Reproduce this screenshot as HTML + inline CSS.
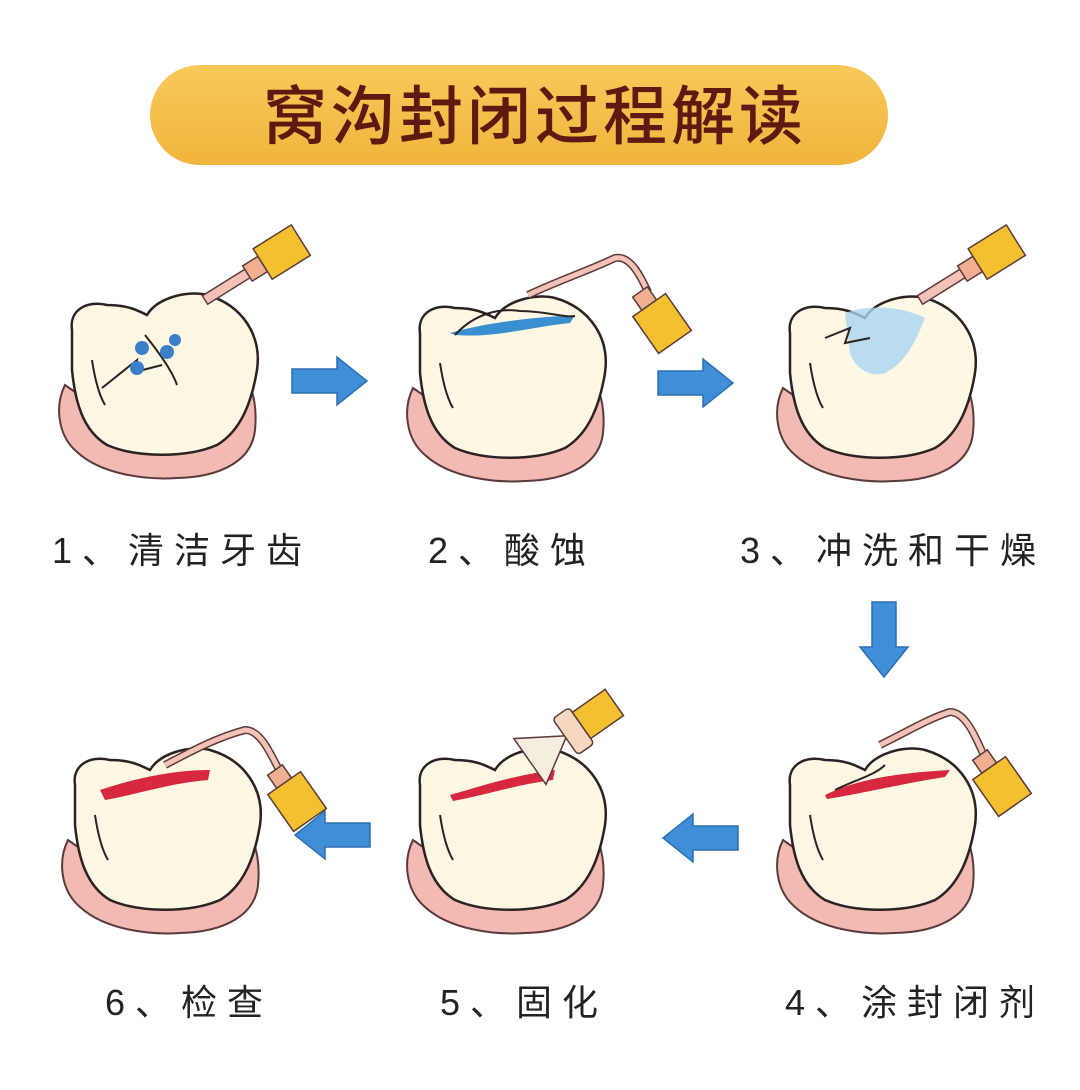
<!DOCTYPE html>
<html><head><meta charset="utf-8"><style>
html,body{margin:0;padding:0;background:#fff;}
body{width:1080px;height:1085px;overflow:hidden;}
</style></head><body>
<svg width="1080" height="1085" viewBox="0 0 1080 1085" xmlns="http://www.w3.org/2000/svg">
<defs>
<linearGradient id="tg" x1="0" x2="0" y1="0" y2="1"><stop offset="0" stop-color="#f8c95a"/><stop offset="1" stop-color="#f1b43c"/></linearGradient>
<g id="tooth">
<path d="M8,105 C-2,125 0,155 20,172 C45,195 90,200 120,198 C165,197 195,180 198,150 C200,130 197,112 190,100 C185,140 150,170 100,172 C55,172 25,150 18,112 Z" fill="#f3b9b3" stroke="#5a3a3a" stroke-width="2"/>
<path d="M15,50 C12,30 30,20 50,25 C70,25 80,30 90,35 C100,18 130,10 150,15 C185,25 205,55 200,90 C195,120 185,150 160,165 C130,178 80,178 50,165 C25,150 18,120 15,90 Z" fill="#fdf7e4" stroke="#2b2222" stroke-width="2.5"/>
<path d="M35,80 C38,100 42,115 48,125" fill="none" stroke="#2b2222" stroke-width="2"/>
</g>
<g id="arr"><path d="M0,-12 L45,-12 L45,-24 L75,0 L45,24 L45,12 L0,12 Z" fill="#3f8fd8" stroke="#2d6fb0" stroke-width="1.5"/></g>
</defs>
<rect x="150" y="65" width="738" height="100" rx="50" fill="url(#tg)"/>
<text x="535" y="139" text-anchor="middle" font-family="'Noto Sans CJK SC',sans-serif" font-size="64" font-weight="500" letter-spacing="4" fill="#5e1a10">窝沟封闭过程解读</text>

<!-- tooth 1 -->
<g transform="translate(57,280)"><use href="#tooth"/>
<path d="M45,108 L80,80 L78,92 L105,85 M88,55 C100,70 115,90 120,105" fill="none" stroke="#2b2222" stroke-width="2"/>
<circle cx="85" cy="68" r="7" fill="#3a7fc8"/><circle cx="110" cy="72" r="7" fill="#3a7fc8"/><circle cx="118" cy="60" r="6" fill="#3a7fc8"/><circle cx="80" cy="88" r="7" fill="#3a7fc8"/>
</g>
<g transform="translate(205,300) rotate(-32)"><rect x="0" y="-5" width="55" height="10" fill="#f5c2b8" stroke="#5a3a3a" stroke-width="1.5"/><rect x="50" y="-9" width="18" height="18" fill="#f0b090" stroke="#5a3a3a" stroke-width="1.5"/><rect x="68" y="-18" width="45" height="36" fill="#f4c030" stroke="#5a3a3a" stroke-width="1.5"/></g>
<use href="#arr" transform="translate(292,381)"/>

<!-- tooth 2 -->
<g transform="translate(405,283)"><use href="#tooth"/>
<path d="M45,50 C80,40 120,35 170,32 L165,40 C120,45 90,55 50,52 Z" fill="#3a8fd0"/>
<path d="M50,52 C70,30 95,25 115,28 C140,28 160,35 170,33" fill="none" stroke="#2b2222" stroke-width="2"/>
</g>
<path d="M528,295 C560,280 590,270 615,258 C630,255 640,275 648,292" fill="none" stroke="#5a3a3a" stroke-width="8"/>
<path d="M528,295 C560,280 590,270 615,258 C630,255 640,275 648,292" fill="none" stroke="#f5c2b8" stroke-width="5"/>
<g transform="translate(640,292) rotate(55)"><rect x="0" y="-9" width="16" height="18" fill="#f0b090" stroke="#5a3a3a" stroke-width="1.5"/><rect x="16" y="-20" width="45" height="40" fill="#f4c030" stroke="#5a3a3a" stroke-width="1.5"/></g>
<use href="#arr" transform="translate(658,383)"/>

<!-- tooth 3 -->
<g transform="translate(775,283)"><use href="#tooth"/>
<path d="M70,30 C100,20 130,25 150,35 C140,60 130,80 110,90 C95,95 80,85 75,70 Z" fill="#a8d4f0" opacity="0.8"/>
<path d="M50,55 L75,45 L70,60 L95,55" fill="none" stroke="#2b2222" stroke-width="2"/>
</g>
<g transform="translate(920,300) rotate(-32)"><rect x="0" y="-5" width="55" height="10" fill="#f5c2b8" stroke="#5a3a3a" stroke-width="1.5"/><rect x="50" y="-9" width="18" height="18" fill="#f0b090" stroke="#5a3a3a" stroke-width="1.5"/><rect x="68" y="-18" width="45" height="36" fill="#f4c030" stroke="#5a3a3a" stroke-width="1.5"/></g>
<use href="#arr" transform="translate(884,602) rotate(90)"/>

<!-- tooth 4 -->
<g transform="translate(775,735)"><use href="#tooth"/>
<path d="M50,60 C80,45 120,38 175,35 L170,42 C130,48 90,58 52,64 Z" fill="#d8283f"/>
<path d="M60,55 C80,45 100,40 110,30" fill="none" stroke="#2b2222" stroke-width="2"/>
</g>
<path d="M880,745 C910,730 930,718 950,712 C965,712 975,735 985,758" fill="none" stroke="#5a3a3a" stroke-width="8"/>
<path d="M880,745 C910,730 930,718 950,712 C965,712 975,735 985,758" fill="none" stroke="#f5c2b8" stroke-width="5"/>
<g transform="translate(980,755) rotate(55)"><rect x="0" y="-9" width="16" height="18" fill="#f0b090" stroke="#5a3a3a" stroke-width="1.5"/><rect x="16" y="-20" width="45" height="40" fill="#f4c030" stroke="#5a3a3a" stroke-width="1.5"/></g>
<use href="#arr" transform="translate(738,838) rotate(180)"/>

<!-- tooth 5 -->
<g transform="translate(405,735)"><use href="#tooth"/>
<path d="M45,60 C80,50 110,40 150,35 L148,45 C110,50 80,60 48,66 Z" fill="#d8283f"/>
</g>
<g transform="translate(575,730) rotate(-35)">
<path d="M-10,0 L-55,-28 L-55,28 Z" fill="#f4ede0" stroke="#5a3a3a" stroke-width="1.5"/>
<rect x="-12" y="-22" width="20" height="44" rx="4" fill="#f6d7c0" stroke="#5a3a3a" stroke-width="1.5"/>
<rect x="8" y="-16" width="40" height="32" fill="#f4c030" stroke="#5a3a3a" stroke-width="1.5"/></g>
<use href="#arr" transform="translate(370,835) rotate(180)"/>

<!-- tooth 6 -->
<g transform="translate(60,735)"><use href="#tooth"/>
<path d="M40,55 C70,45 110,35 150,35 L148,45 C110,48 75,60 45,65 Z" fill="#d8283f"/>
</g>
<path d="M165,765 C190,752 215,738 245,730 C260,730 270,752 280,772" fill="none" stroke="#5a3a3a" stroke-width="8"/>
<path d="M165,765 C190,752 215,738 245,730 C260,730 270,752 280,772" fill="none" stroke="#f5c2b8" stroke-width="5"/>
<g transform="translate(275,770) rotate(55)"><rect x="0" y="-9" width="16" height="18" fill="#f0b090" stroke="#5a3a3a" stroke-width="1.5"/><rect x="16" y="-20" width="45" height="40" fill="#f4c030" stroke="#5a3a3a" stroke-width="1.5"/></g>

<g font-family="'Liberation Sans','Noto Sans CJK SC',sans-serif" font-size="36" fill="#222" letter-spacing="10">
<text x="52" y="563">1、清洁牙齿</text>
<text x="428" y="563">2、酸蚀</text>
<text x="740" y="563">3、冲洗和干燥</text>
<text x="105" y="1015">6、检查</text>
<text x="440" y="1015">5、固化</text>
<text x="785" y="1015">4、涂封闭剂</text>
</g>
</svg>
</body></html>
